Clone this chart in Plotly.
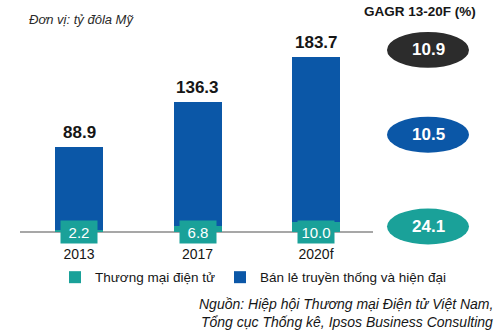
import plotly.graph_objects as go

years = ["2013", "2017", "2020f"]
totals = [88.9, 136.3, 183.7]
ecommerce = [2.2, 6.8, 10.0]
traditional = [round(t - e, 1) for t, e in zip(totals, ecommerce)]
gagr_labels = ["10.9", "10.5", "24.1"]
series_names = ["Thương mại điện tử", "Bán lẻ truyền thống và hiện đại"]

W, H = 500, 333
BASE = 232.5          # baseline pixel from top
PXU = 0.953           # pixels per unit
BLUE = "#0b57a7"
TEAL = "#1aa199"
DARK = "#2c2c2c"
TXT = "#161616"
FONT = "Liberation Sans, Arial, sans-serif"

def xp(px):
    return px / W

def yp(py):
    return (BASE - py) / BASE

xs = [0, 1, 2]
fig = go.Figure()
fig.add_bar(x=xs, y=ecommerce, name=series_names[0], marker_color=TEAL,
            width=0.405, marker_line_width=0, hoverinfo="skip")
fig.add_bar(x=xs, y=traditional, name=series_names[1], marker_color=BLUE,
            width=0.405, marker_line_width=0, hoverinfo="skip")

ann = []
for x, t, e in zip(xs, totals, ecommerce):
    ann.append(dict(x=x, y=t, xref="x", yref="y", text=f"<b>{t}</b>", showarrow=False,
                    xanchor="center", yanchor="bottom", yshift=3,
                    font=dict(size=17, color=TXT, family=FONT)))
    ann.append(dict(x=x, y=0, xref="x", yref="y", text=f"{e}", showarrow=False,
                    yanchor="middle", xanchor="center", width=34, height=20, bgcolor=TEAL,
                    borderpad=1, font=dict(size=15, color="white", family=FONT)))

shapes = [dict(type="line", xref="paper", yref="paper", x0=xp(20), x1=xp(373),
               y0=0, y1=0, line=dict(color="#8a8a8a", width=1.5), layer="below")]

ell_colors = [DARK, BLUE, TEAL]
ell_centers = [50, 135, 227]
for c, cy, lab in zip(ell_colors, ell_centers, gagr_labels):
    shapes.append(dict(type="circle", xref="paper", yref="paper",
                       x0=xp(387), x1=xp(469), y0=yp(cy + 18), y1=yp(cy - 18),
                       fillcolor=c, line=dict(width=0)))
    ann.append(dict(x=xp(428), y=yp(cy), xref="paper", yref="paper", text=f"<b>{lab}</b>",
                    showarrow=False, xanchor="center", yanchor="middle",
                    font=dict(size=17, color="white", family=FONT)))

ann.append(dict(x=xp(27), y=yp(20), xref="paper", yref="paper", text="<i>Đơn vị: tỷ đôla Mỹ</i>",
                showarrow=False, xanchor="left", yanchor="middle",
                font=dict(size=13, color="#2a2a2a", family=FONT)))
ann.append(dict(x=xp(478), y=yp(12), xref="paper", yref="paper", text="<b>GAGR 13-20F (%)</b>",
                showarrow=False, xanchor="right", yanchor="middle",
                font=dict(size=13.5, color=TXT, family=FONT)))
ann.append(dict(x=xp(495), y=yp(305), xref="paper", yref="paper",
                text="<i>Nguồn: Hiệp hội Thương mại Điện tử Việt Nam,</i>",
                showarrow=False, xanchor="right", yanchor="middle",
                font=dict(size=14, color=TXT, family=FONT)))
ann.append(dict(x=xp(495), y=yp(323), xref="paper", yref="paper",
                text="<i>Tổng cục Thống kê, Ipsos Business Consulting</i>",
                showarrow=False, xanchor="right", yanchor="middle",
                font=dict(size=14, color=TXT, family=FONT)))

fig.update_layout(
    width=W, height=H, barmode="stack",
    margin=dict(l=0, r=0, t=0, b=H - BASE),
    paper_bgcolor="white", plot_bgcolor="white",
    font=dict(family=FONT, color=TXT),
    xaxis=dict(range=[-79 / 118.5, (W - 79) / 118.5], tickvals=xs, ticktext=years,
               showgrid=False, zeroline=False, showline=False, ticks="outside",
               ticklen=9, tickcolor="rgba(0,0,0,0)", tickfont=dict(size=14, color=TXT)),
    yaxis=dict(range=[0, BASE / PXU], visible=False, showgrid=False, zeroline=False),
    showlegend=True,
    legend=dict(orientation="h", x=xp(55), y=yp(278), xanchor="left", yanchor="middle",
                traceorder="normal", font=dict(size=13.5, color=TXT),
                itemwidth=30, bgcolor="rgba(0,0,0,0)"),
    annotations=ann, shapes=shapes,
)

fig.write_html("out.html")
